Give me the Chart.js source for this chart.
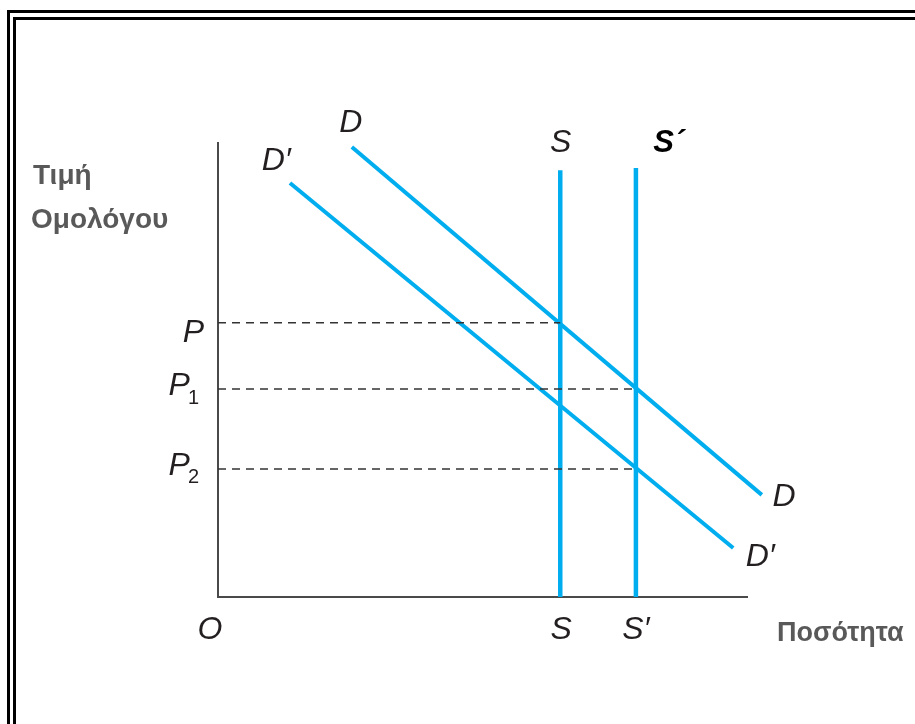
<!DOCTYPE html>
<html>
<head>
<meta charset="utf-8">
<script src="https://cdn.jsdelivr.net/npm/chart.js@4"></script>
<style>
  html, body { margin: 0; padding: 0; background: #fff; }
  body { width: 915px; height: 724px; position: relative; overflow: hidden; }
  .frame-outer { position: absolute; left: 7px; top: 10px; width: 940px; height: 740px; border: 3px solid #000; }
  .frame-inner { position: absolute; left: 13px; top: 17px; width: 940px; height: 740px; border: 3px solid #000; }
  #bondChart { position: absolute; left: 0; top: 0; }
</style>
</head>
<body>
<div class="frame-outer"></div>
<div class="frame-inner"></div>
<canvas id="bondChart" width="915" height="724"></canvas>
<script>
// quantity (x) and bond price (y), both on a 0-100 scale
const supplyQty = [64.7, 79.0];        // S, S'
const supplyTop = [94.0, 94.5];
const priceLevels = [60.4, 45.8, 28.2]; // P, P1, P2
const priceEndQty = [64.7, 79.0, 79.0];
const demandQty = [25.3, 102.8];       // D
const demandPrice = [99.1, 22.5];
const demand2Qty = [13.6, 97.4];       // D'
const demand2Price = [91.2, 10.8];

const BLUE = '#00aeef';
const INK = '#231f20';

const datasets = [];
priceLevels.forEach((p, i) => {
    datasets.push({
        data: [{ x: 0, y: p }, { x: priceEndQty[i], y: p }],
        borderColor: '#333',
        borderWidth: 1.5,
        borderDash: [8, 6]
    });
});
supplyQty.forEach((q, i) => {
    datasets.push({
        data: [{ x: q, y: 0 }, { x: q, y: supplyTop[i] }],
        borderColor: BLUE,
        borderWidth: 4.5
    });
});
datasets.push({
    data: demandQty.map((q, i) => ({ x: q, y: demandPrice[i] })),
    borderColor: BLUE,
    borderWidth: 4
});
datasets.push({
    data: demand2Qty.map((q, i) => ({ x: q, y: demand2Price[i] })),
    borderColor: BLUE,
    borderWidth: 4
});
datasets.forEach(d => {
    d.showLine = true;
    d.pointRadius = 0;
    d.clip = false;
});

// labels anchored at data values
const itLetter = 'italic 32px "Liberation Sans", Arial, sans-serif';
const subFont = '20px "Liberation Sans", Arial, sans-serif';
const curveLabels = [
    { text: 'D', x: 25.1, y: 104.4 },
    { text: 'D\u2032', x: 11.0, y: 96.0 },
    { text: 'S', x: 64.8, y: 100.0 },
    { text: 'S\u00b4', x: 85.2, y: 100.0, font: 'bold italic 31px "Liberation Sans", Arial, sans-serif', color: '#000' },
    { text: 'D', x: 107.0, y: 22.0 },
    { text: 'D\u2032', x: 102.5, y: 8.8 }
];
const xLabels = [
    { text: 'O', x: 0, dx: -8 },
    { text: 'S', x: supplyQty[0], dx: 1 },
    { text: 'S\u2032', x: supplyQty[1], dx: 0 }
];
const yLabels = [
    { text: 'P', sub: '', y: priceLevels[0], dy: 10 },
    { text: 'P', sub: '1', y: priceLevels[1], dy: -3 },
    { text: 'P', sub: '2', y: priceLevels[2], dy: -3 }
];

const labelPlugin = {
    id: 'labelPlugin',
    afterDraw(chart) {
        const ctx = chart.ctx;
        const xs = chart.scales.x, ys = chart.scales.y;
        const area = chart.chartArea;
        ctx.save();
        ctx.textBaseline = 'middle';
        ctx.textAlign = 'center';
        curveLabels.forEach(l => {
            ctx.font = l.font || itLetter;
            ctx.fillStyle = l.color || INK;
            ctx.fillText(l.text, xs.getPixelForValue(l.x), ys.getPixelForValue(l.y));
        });
        ctx.font = itLetter;
        ctx.fillStyle = INK;
        xLabels.forEach(l => {
            ctx.fillText(l.text, xs.getPixelForValue(l.x) + l.dx, area.bottom + 33);
        });
        // price ticks with subscripts, right-aligned to the axis
        ctx.textAlign = 'left';
        yLabels.forEach(l => {
            const yy = ys.getPixelForValue(l.y) + l.dy;
            ctx.font = itLetter;
            const w = ctx.measureText(l.text).width;
            ctx.font = subFont;
            const ws = l.sub ? ctx.measureText(l.sub).width : 0;
            const right = l.sub ? area.left - 19 : area.left - 14;
            ctx.font = itLetter;
            ctx.fillText(l.text, right - ws - w + (l.sub ? 2 : 0), yy);
            if (l.sub) {
                ctx.font = subFont;
                ctx.fillText(l.sub, right - ws, yy + 12);
            }
        });
        // axis titles
        ctx.font = 'bold 28px "Liberation Sans", Arial, sans-serif';
        ctx.fillStyle = '#595959';
        ctx.fillText('Τιμή', 33, area.top + 33);
        ctx.fillText('Ομολόγου', 31, area.top + 77);
        ctx.font = 'bold 27px "Liberation Sans", Arial, sans-serif';
        ctx.fillText('Ποσότητα', area.right + 30, area.bottom + 37);
        ctx.restore();
    }
};

const axisStyle = {
    type: 'linear',
    min: 0,
    max: 100,
    grid: { display: false, drawTicks: false },
    ticks: { display: false },
    border: { display: true, color: '#4a4a4a', width: 2 }
};

new Chart(document.getElementById('bondChart').getContext('2d'), {
    type: 'scatter',
    data: { datasets: datasets },
    options: {
        responsive: false,
        animation: false,
        layout: { padding: { left: 218, top: 143, right: 168, bottom: 127 } },
        scales: {
            x: axisStyle,
            y: Object.assign({}, axisStyle)
        },
        plugins: {
            legend: { display: false },
            tooltip: { enabled: false }
        }
    },
    plugins: [labelPlugin]
});
</script>
</body>
</html>
